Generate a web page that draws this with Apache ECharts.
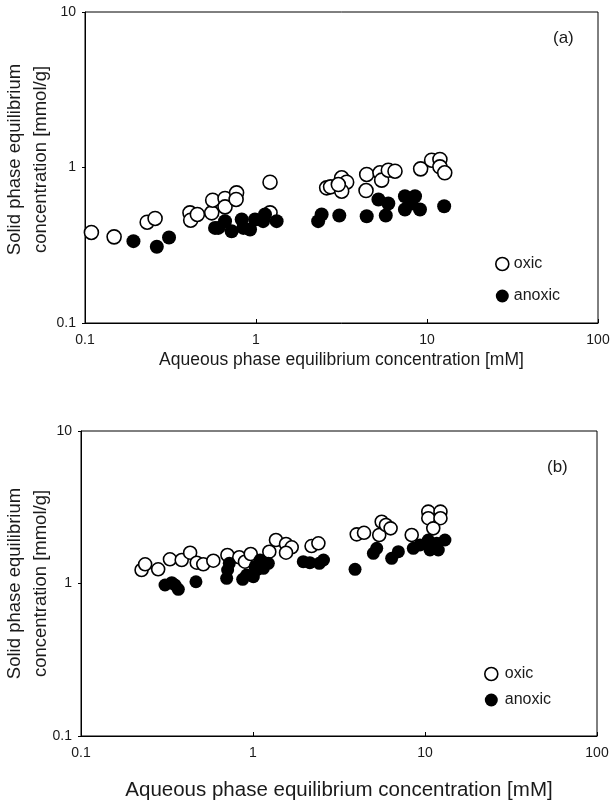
<!DOCTYPE html>
<html>
<head>
<meta charset="utf-8">
<script src="https://cdn.jsdelivr.net/npm/echarts@6/dist/echarts.min.js"></script>
<style>html,body{margin:0;padding:0;background:#fff}#c{width:611px;height:804px}</style>
</head>
<body>
<div id="c"></div>
<script>
var xTickLabels = ['0.1', '1', '10', '100'];
var yTickLabels = ['0.1', '1', '10'];
var seriesNames = ['oxic', 'anoxic'];
var panelTags = ['(a)', '(b)'];

var oxicA = [[0.109,0.382],[0.148,0.358],[0.231,0.445],[0.257,0.47],[0.411,0.511],[0.415,0.458],
  [0.454,0.499],[0.551,0.511],[0.558,0.616],[0.659,0.632],[0.659,0.558],[0.77,0.687],[0.765,0.623],
  [1.208,0.804],[1.208,0.511],[2.59,0.74],[2.73,0.751],[3.17,0.859],[3.39,0.804],[3.17,0.704],
  [3.03,0.777],[4.44,0.902],[4.4,0.711],[5.31,0.925],[5.43,0.829],[5.94,0.961],[6.5,0.947],
  [9.18,0.98],[10.64,1.114],[11.9,1.126],[11.9,1.01],[12.7,0.925]];
var anoxicA = [[0.192,0.336],[0.263,0.309],[0.31,0.355],[0.576,0.409],[0.602,0.409],[0.659,0.452],
  [0.72,0.389],[0.825,0.463],[0.843,0.409],[0.923,0.399],[0.987,0.463],[1.129,0.499],[1.1,0.452],
  [1.32,0.452],[2.31,0.452],[2.42,0.499],[3.07,0.491],[4.44,0.486],[5.74,0.491],[5.94,0.587],
  [5.2,0.623],[7.43,0.654],[8.51,0.654],[7.43,0.537],[9.1,0.537],[8.13,0.587],[12.6,0.564]];
var oxicB = [[0.225,1.226],[0.236,1.336],[0.281,1.239],[0.329,1.441],[0.385,1.426],[0.431,1.592],
  [0.471,1.369],[0.514,1.336],[0.588,1.411],[0.71,1.538],[0.832,1.486],[0.898,1.39],[0.97,1.561],
  [1.244,1.616],[1.36,1.928],[1.556,1.815],[1.679,1.727],[1.556,1.592],[2.19,1.76],[2.4,1.835],
  [4.01,2.1],[4.42,2.15],[5.42,2.08],[5.6,2.54],[5.93,2.42],[6.31,2.3],[8.37,2.08],[10.45,2.96],
  [10.45,2.68],[12.3,2.96],[12.3,2.68],[11.17,2.3]];
var anoxicB = [[0.308,0.978],[0.337,1.012],[0.352,0.978],[0.368,0.916],[0.466,1.027],[0.703,1.081],
  [0.712,1.226],[0.728,1.357],[0.871,1.065],[0.918,1.137],[1.005,1.108],[1.027,1.288],[1.099,1.426],
  [1.149,1.258],[1.228,1.357],[1.05,1.226],[1.96,1.39],[2.14,1.369],[2.43,1.357],[2.57,1.426],
  [3.92,1.239],[5.01,1.578],[5.24,1.7],[6.4,1.463],[7.0,1.616],[8.55,1.7],[9.35,1.789],[10.45,1.928],
  [10.69,1.658],[11.95,1.658],[13.06,1.928],[11.7,1.835]];

var FONT = 'Liberation Sans, Arial, sans-serif';
var TXT = '#1a1a1a';
function xLab(v){ var i = Math.round(Math.log10(v)) + 1; return xTickLabels[i] || ''; }
function yLab(v){ var i = Math.round(Math.log10(v)) + 1; return yTickLabels[i] || ''; }

function xAxis(gi, nameSize, gap){
  return {type:'log', logBase:10, gridIndex:gi, min:0.1, max:100,
    name:'Aqueous phase equilibrium concentration [mM]', nameLocation:'middle', nameGap:gap,
    nameTextStyle:{fontFamily:FONT, fontSize:nameSize, color:TXT},
    axisLine:{show:true, lineStyle:{color:'#000', width:1}},
    axisTick:{show:true, inside:true, length:4, lineStyle:{color:'#000'}},
    minorTick:{show:false}, splitLine:{show:false},
    axisLabel:{fontFamily:FONT, fontSize:14, color:TXT, margin:10, formatter:xLab}};
}
function yAxis(gi, gap, shift){
  return {type:'log', logBase:10, gridIndex:gi, min:0.1, max:10,
    name:'Solid phase equilibrium\nconcentration [mmol/g]', nameLocation:'middle', nameGap:gap, nameRotate:90,
    nameMoveOverlap:false,
    nameTextStyle:{fontFamily:FONT, fontSize:18.5, color:TXT, lineHeight:26, padding:[0,0,0,shift]},
    axisLine:{show:true, lineStyle:{color:'#000', width:1}},
    axisTick:{show:true, inside:false, length:3, lineStyle:{color:'#000'}},
    minorTick:{show:false}, splitLine:{show:false},
    axisLabel:{fontFamily:FONT, fontSize:14, color:TXT, margin:9, formatter:yLab}};
}
function sc(name, data, gi, size){
  var open = name === seriesNames[0];
  return {type:'scatter', name:name, data:data, xAxisIndex:gi, yAxisIndex:gi, symbol:'circle', symbolSize:size,
    z: open ? 2 : 3,
    itemStyle: open ? {color:'#fff', borderColor:'#000', borderWidth:1.6, opacity:1} : {color:'#000', opacity:1},
    emphasis:{disabled:true}};
}
function legend(left, top, gap, pad){
  return {data:seriesNames, orient:'vertical', left:left, top:top, itemGap:gap, itemWidth:13, itemHeight:13,
    icon:'circle', itemStyle:{borderWidth:1.6}, selectedMode:false,
    textStyle:{fontFamily:FONT, fontSize:16, color:TXT, padding:[0,0,0,pad]}};
}

var chart = echarts.init(document.getElementById('c'), null, {renderer:'canvas'});
chart.setOption({
  backgroundColor:'#fff',
  animation:false,
  grid:[
    {left:85, top:12, width:513, height:311, show:true, borderColor:'#000', borderWidth:1,
     backgroundColor:'transparent', containLabel:false, outerBoundsMode:'none'},
    {left:81, top:431, width:516, height:305, show:true, borderColor:'#000', borderWidth:1,
     backgroundColor:'transparent', containLabel:false, outerBoundsMode:'none'}
  ],
  xAxis:[xAxis(0,17.5,28), xAxis(1,20.5,44)],
  yAxis:[yAxis(0,31,16), yAxis(1,27,0)],
  legend:[legend(490, 251, 16, 0), legend(479, 661, 10, 2)],
  graphic:[
    {type:'text', left:553, top:30, style:{text:panelTags[0], font:'17px '+FONT, fill:TXT}},
    {type:'text', left:547, top:459, style:{text:panelTags[1], font:'17px '+FONT, fill:TXT}}
  ],
  series:[sc(seriesNames[0], oxicA, 0, 14), sc(seriesNames[1], anoxicA, 0, 14),
          sc(seriesNames[0], oxicB, 1, 13), sc(seriesNames[1], anoxicB, 1, 13)]
});
</script>
</body>
</html>
